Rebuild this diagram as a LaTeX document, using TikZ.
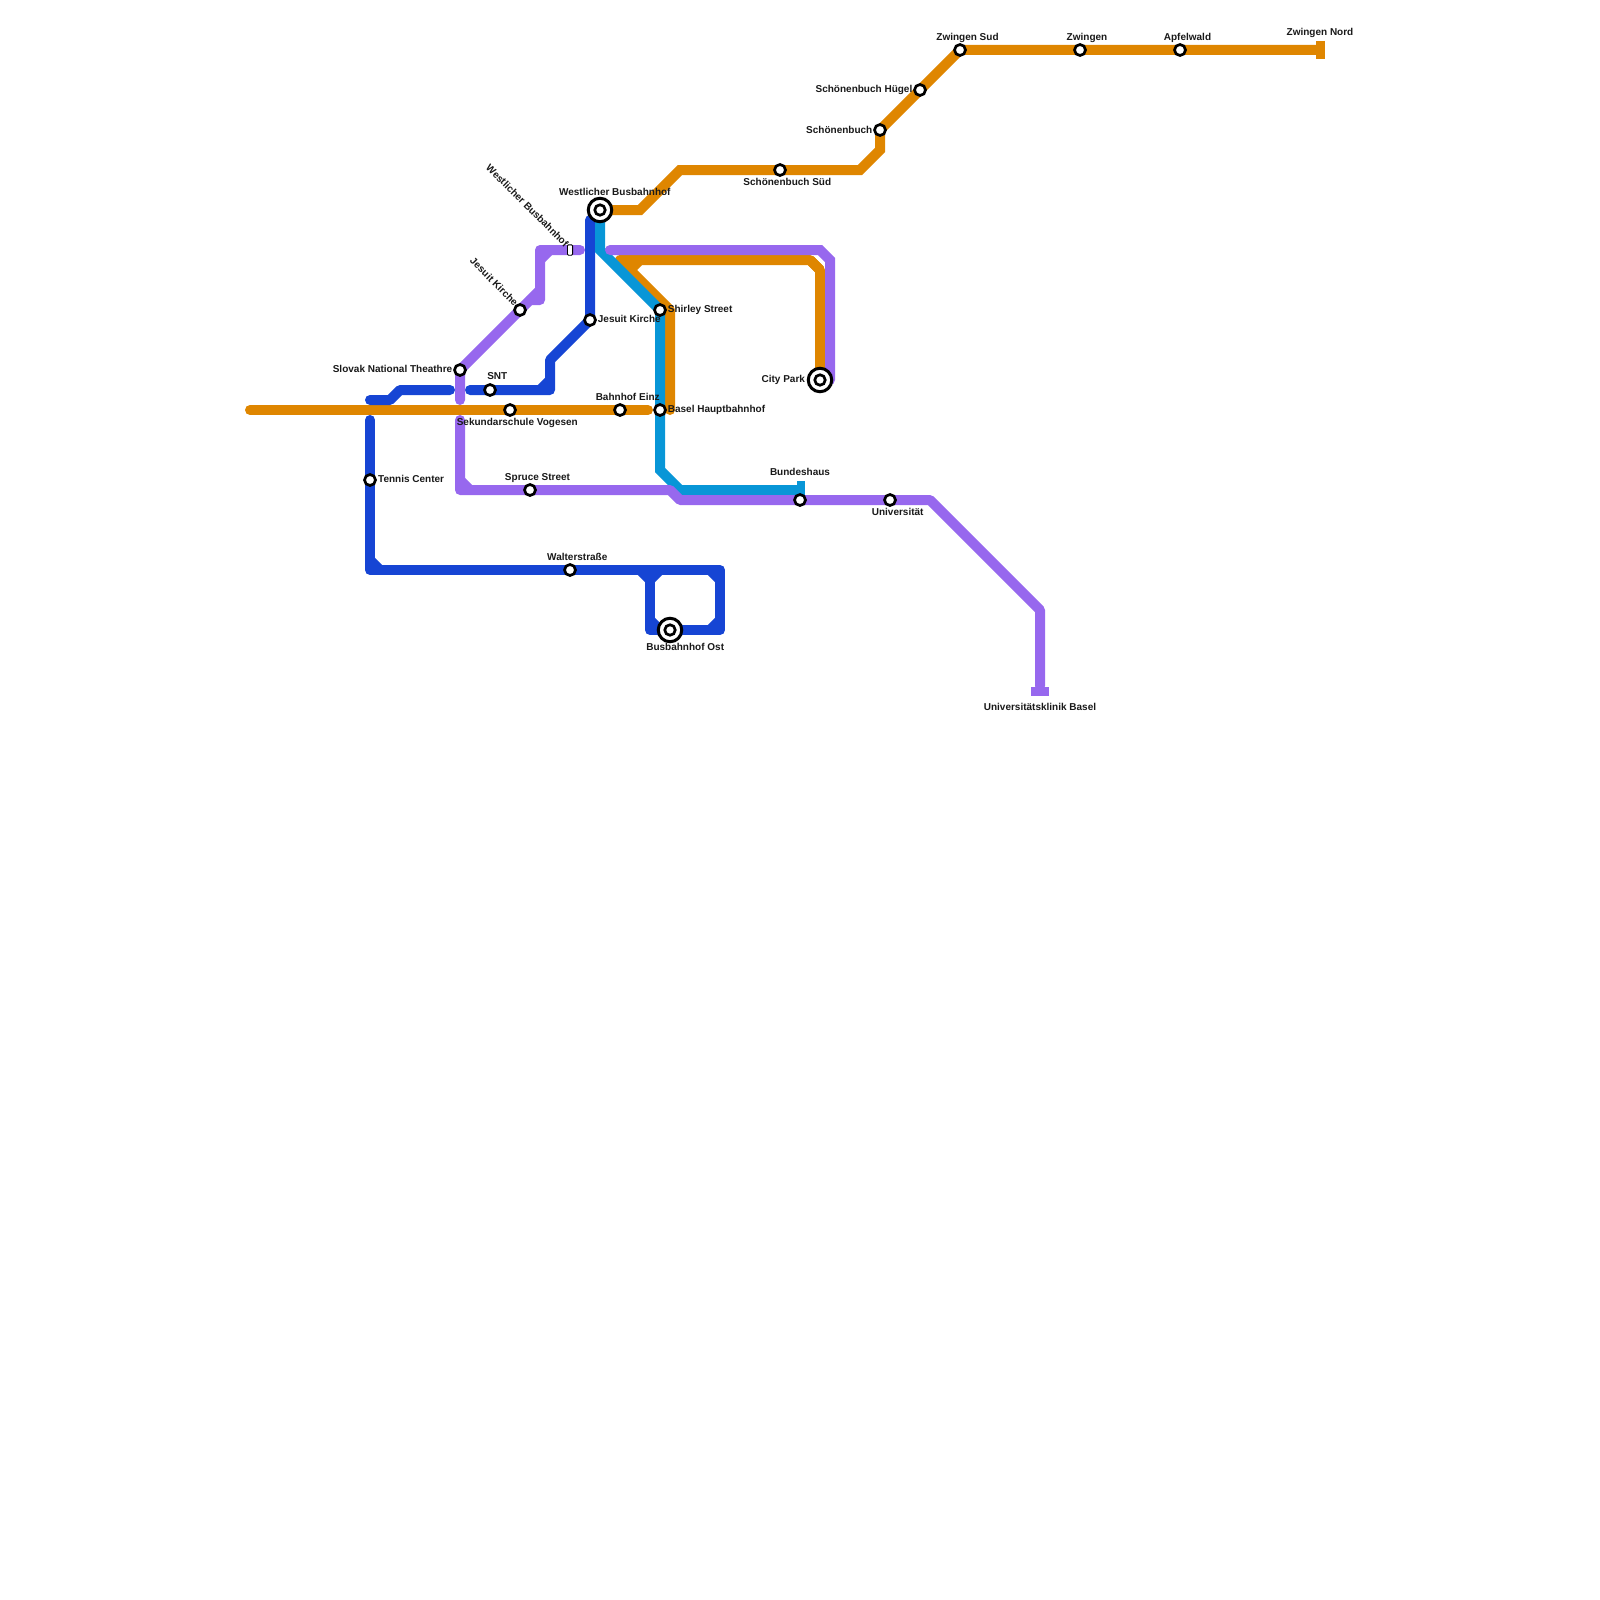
\documentclass[tikz,border=0pt]{standalone}
\usepackage{fontspec}
\setmainfont{Liberation Sans}
\definecolor{orangeline}{HTML}{DF8600}
\definecolor{blueline}{HTML}{1645D4}
\definecolor{cyanline}{HTML}{0896D7}
\definecolor{purpleline}{HTML}{9768EE}
\tikzset{
  metro/.style={line width=10pt,line cap=round,line join=round},
  chamfer/.style={line width=10pt,line cap=butt},
  tbar/.style={line width=9pt,line cap=butt},
  station/.style={circle,draw=black,fill=white,line width=2.7pt,minimum size=11pt,inner sep=0pt},
  hubcore/.style={circle,draw=black,fill=white,line width=2.7pt,minimum size=10.5pt,inner sep=0pt},
  hub/.style={circle,draw=black,fill=white,line width=3pt,minimum size=23.5pt,inner sep=0pt},
  terminus/.style={rectangle,rounded corners=1pt,draw=black,fill=white,line width=0.8pt,minimum width=5.2pt,minimum height=10.3pt,inner sep=0pt},
  lab/.style={font=\bfseries\fontsize{10}{11}\selectfont,text=black!90,inner sep=0pt}
}
\begin{document}
\begin{tikzpicture}[x=1pt,y=-1pt]
\useasboundingbox (0,0) rectangle (1600,1600);
% stations
\coordinate (pWest) at (600,210);
\coordinate (pCity) at (820,380);
\coordinate (pOst) at (670,630);
\coordinate (pZS) at (960,50);
\coordinate (pZ) at (1080,50);
\coordinate (pAp) at (1180,50);
\coordinate (pZN) at (1320,50);
\coordinate (pSH) at (920,90);
\coordinate (pSB) at (880,130);
\coordinate (pSS) at (780,170);
\coordinate (pShir) at (660,310);
\coordinate (pJKb) at (590,320);
\coordinate (pHbf) at (660,410);
\coordinate (pEinz) at (620,410);
\coordinate (pSek) at (510,410);
\coordinate (pSNT) at (490,390);
\coordinate (pSlo) at (460,370);
\coordinate (pJKp) at (520,310);
\coordinate (pWt) at (570,250);
\coordinate (pTen) at (370,480);
\coordinate (pSpr) at (530,490);
\coordinate (pWal) at (570,570);
\coordinate (pBun) at (800,500);
\coordinate (pUni) at (890,500);
\coordinate (pKli) at (1040,690);
\coordinate (pBunT) at (800,490);
% orange
\begin{scope}[draw=orangeline,color=orangeline]
\draw[metro] (250,410) -- (pSek) -- (pEinz) -- (648,410);
\draw[metro,line join=miter] (pWest) -- (640,210) -- (680,170) -- (pSS) -- (860,170) -- (880,150) -- (pSB) -- (pSH) -- (pZS) -- (pZ) -- (pAp) -- (1316,50);
\draw[tbar] (pZN) ++(0,-9) -- ++(0,18);
\draw[metro] (670,410) -- (670,310) -- (620,260) -- (810,260) -- (820,270) -- (pCity);
\draw[chamfer] (630,270) -- (640,260);
\draw[chamfer] (810,260) -- (820,270);
\end{scope}
% blue
\begin{scope}[draw=blueline]
\draw[metro] (370,400) -- (390,400) -- (400,390) -- (450,390);
\draw[metro] (470,390) -- (pSNT) -- (550,390) -- (550,360) -- (pJKb) -- (590,220);
\draw[metro] (370,420) -- (pTen) -- (370,570) -- (pWal) -- (720,570) -- (720,630) -- (650,630) -- (650,570);
\draw[chamfer] (370,560) -- (380,570);
\draw[chamfer] (540,390) -- (550,380);
\draw[chamfer] (640,570) -- (650,580);
\draw[chamfer] (660,570) -- (650,580);
\draw[chamfer] (710,570) -- (720,580);
\draw[chamfer] (720,620) -- (710,630);
\draw[chamfer] (650,620) -- (660,630);
\end{scope}
% cyan
\begin{scope}[draw=cyanline]
\draw[metro,line cap=butt,line join=miter] (pWest) -- (600,250) -- (pShir) -- (pHbf) -- (660,470) -- (680,490) -- (pBunT);
\draw[line width=8pt] (801,481) -- (801,499);
\end{scope}
% purple
\begin{scope}[draw=purpleline]
\draw[metro] (580,250) -- (pWt) -- (540,250) -- (540,300) -- (530,300) -- (pJKp) -- (pSlo) -- (460,400);
\draw[chamfer] (540,260) -- (550,250);
\draw[chamfer] (530,300) -- (540,290);
\draw[metro,line join=miter] (610,250) -- (820,250) -- (830,260) -- (830,380);
\draw[metro] (460,420) -- (460,490) -- (pSpr) -- (670,490) -- (680,500) -- (pBun) -- (pUni) -- (930,500) -- (1040,610) -- (1040,686);
\draw[chamfer] (460,480) -- (470,490);
\draw[tbar] (1031,691) -- (1049,691);
\end{scope}
% station markers
\node[hub] (hWest) at (pWest) {};
\node[hubcore] (sWest) at (pWest) {};
\node[hub] (hCity) at (pCity) {};
\node[hubcore] (sCity) at (pCity) {};
\node[hub] (hOst) at (pOst) {};
\node[hubcore] (sOst) at (pOst) {};
\node[station] (sZS) at (pZS) {};
\node[station] (sZ) at (pZ) {};
\node[station] (sAp) at (pAp) {};
\node[station] (sSH) at (pSH) {};
\node[station] (sSB) at (pSB) {};
\node[station] (sSS) at (pSS) {};
\node[station] (sShir) at (pShir) {};
\node[station] (sJKb) at (pJKb) {};
\node[station] (sHbf) at (pHbf) {};
\node[station] (sEinz) at (pEinz) {};
\node[station] (sSek) at (pSek) {};
\node[station] (sSNT) at (pSNT) {};
\node[station] (sSlo) at (pSlo) {};
\node[station] (sJKp) at (pJKp) {};
\node[terminus] (sWt) at (pWt) {};
\node[station] (sTen) at (pTen) {};
\node[station] (sSpr) at (pSpr) {};
\node[station] (sWal) at (pWal) {};
\node[station] (sBun) at (pBun) {};
\node[station] (sUni) at (pUni) {};
% labels
\node[lab] (l1) at (967.5,37.8) {Zwingen Sud};
\node[lab] (l2) at (1087,37.8) {Zwingen};
\node[lab] (l3) at (1187.5,37.8) {Apfelwald};
\node[lab] (l4) at (1320,32.8) {Zwingen Nord};
\node[lab,anchor=east] (l5) at (912.5,90) {Schönenbuch Hügel};
\node[lab,anchor=east] (l6) at (872.5,129.5) {Schönenbuch};
\node[lab] (l7) at (787.3,181.5) {Schönenbuch Süd};
\node[lab] (l8) at (614.8,191.5) {Westlicher Busbahnhof};
\node[lab,anchor=east,rotate=-45] (l9) at (567,245) {Westlicher Busbahnhof};
\node[lab,anchor=east,rotate=-45] (l10) at (516.5,304) {Jesuit Kirche};
\node[lab,anchor=west] (l11) at (597.7,319.2) {Jesuit Kirche};
\node[lab,anchor=west] (l12) at (667.7,309.5) {Shirley Street};
\node[lab,anchor=west] (l13) at (667.7,409.5) {Basel Hauptbahnhof};
\node[lab,anchor=east] (l14) at (805.2,379.5) {City Park};
\node[lab,anchor=east] (l15) at (452.5,368.7) {Slovak National Theathre};
\node[lab] (l16) at (497.3,376.5) {SNT};
\node[lab] (l17) at (517.3,422.8) {Sekundarschule Vogesen};
\node[lab] (l18) at (627.7,396.5) {Bahnhof Einz};
\node[lab,anchor=west] (l19) at (378,479.2) {Tennis Center};
\node[lab] (l20) at (537.5,477.8) {Spruce Street};
\node[lab] (l21) at (577.3,557) {Walterstraße};
\node[lab] (l22) at (685.2,646.5) {Busbahnhof Ost};
\node[lab] (l23) at (800,472) {Bundeshaus};
\node[lab] (l24) at (897.7,511.5) {Universität};
\node[lab] (l25) at (1040,706.5) {Universitätsklinik Basel};
\end{tikzpicture}
\end{document}
